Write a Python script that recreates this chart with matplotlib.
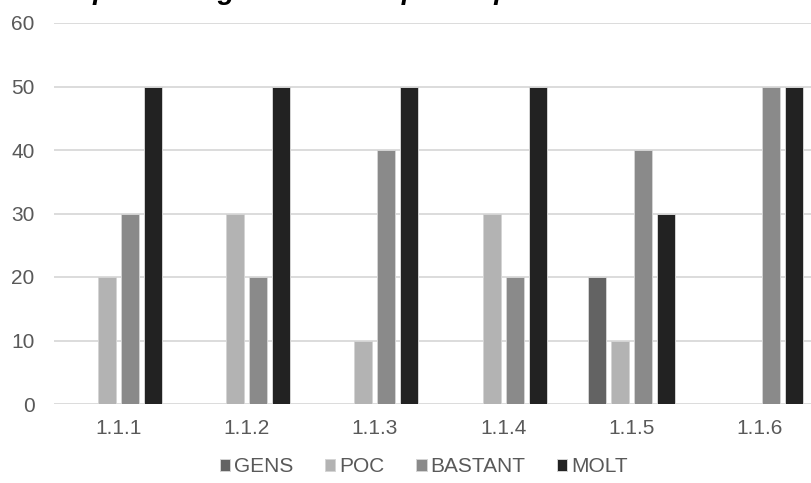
import numpy as np
import matplotlib
matplotlib.use("Agg")
import matplotlib.pyplot as plt

plt.rcParams["font.family"] = ["Liberation Sans", "DejaVu Sans"]

# Percentatge de respostes per ítem
items = ["1.1.1", "1.1.2", "1.1.3", "1.1.4", "1.1.5", "1.1.6"]
gens = [0, 0, 0, 0, 20, 0]
poc = [20, 30, 10, 30, 10, 0]
bastant = [30, 20, 40, 20, 40, 50]
molt = [50, 50, 50, 50, 30, 50]

series = [
    ("GENS", gens, "#636363"),
    ("POC", poc, "#b3b3b3"),
    ("BASTANT", bastant, "#8a8a8a"),
    ("MOLT", molt, "#222222"),
]

fig = plt.figure(figsize=(8.11, 4.83), dpi=100)
ax = fig.add_axes([54 / 811, 79 / 483, 770 / 811, 381 / 483])

x = np.arange(len(items))
step = 0.179
width = 0.142
for i, (name, vals, col) in enumerate(series):
    ax.bar(x + (i - 1.5) * step, vals, width, color=col, label=name,
           edgecolor="#d4d4d4", linewidth=0.7, zorder=3)

ax.set_xlim(-0.5, len(items) - 0.5)
ax.set_ylim(0, 60)
ax.set_yticks(range(0, 61, 10))
ax.set_xticks(x)
ax.set_xticklabels(items)
ax.yaxis.grid(True, color="#d9d9d9", linewidth=1.3, zorder=0)
ax.set_axisbelow(True)
for s in ax.spines.values():
    s.set_visible(False)
ax.tick_params(axis="both", length=0, labelsize=15, labelcolor="#595959")
ax.tick_params(axis="y", pad=14)
ax.tick_params(axis="x", pad=11)

leg = ax.legend(loc="center", bbox_to_anchor=(424 / 811, 16 / 483),
                bbox_transform=fig.transFigure, ncol=4, frameon=False,
                fontsize=15, handlelength=0.5, handleheight=0.5,
                handletextpad=0.2, columnspacing=1.5)
for t in leg.get_texts():
    t.set_color("#595959")

# titol, tallat per la vora superior
fig.text(-0.005, 1 + 1 / 483, "Gràfic: percentatge d'alumnes per resposta",
         fontsize=20, fontweight="bold", fontstyle="italic", color="#000000",
         va="baseline", ha="left")

fig.savefig("out.png", dpi=100)
